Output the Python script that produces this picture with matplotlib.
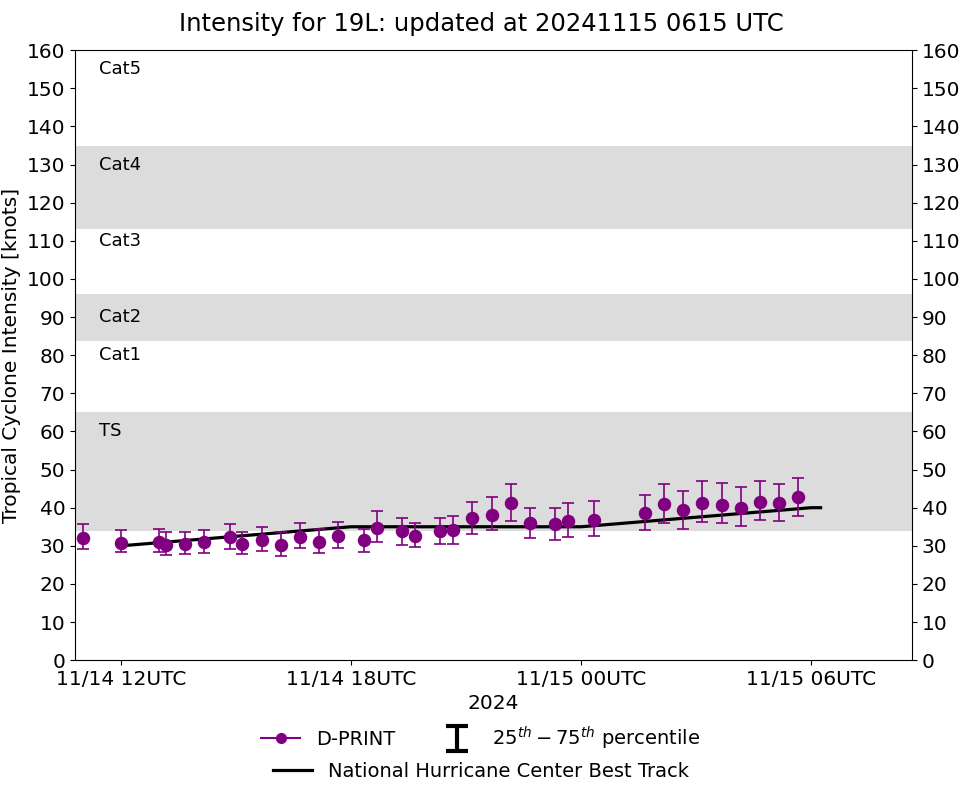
import matplotlib
matplotlib.use('Agg')
import matplotlib.pyplot as plt
import matplotlib.dates as mdates
import matplotlib.transforms as mtransforms
from matplotlib.lines import Line2D
from matplotlib.legend_handler import HandlerErrorbar
from datetime import datetime

# D-PRINT estimates (time, median, 25th, 75th percentile) in knots
dprint_times = ['2024-11-14 11:00', '2024-11-14 12:00', '2024-11-14 13:00', '2024-11-14 13:10',
                '2024-11-14 13:40', '2024-11-14 14:10', '2024-11-14 14:50', '2024-11-14 15:10',
                '2024-11-14 15:40', '2024-11-14 16:10', '2024-11-14 16:40', '2024-11-14 17:10',
                '2024-11-14 17:40', '2024-11-14 18:20', '2024-11-14 18:40', '2024-11-14 19:20',
                '2024-11-14 19:40', '2024-11-14 20:20', '2024-11-14 20:40', '2024-11-14 21:10',
                '2024-11-14 21:40', '2024-11-14 22:10', '2024-11-14 22:40', '2024-11-14 23:20',
                '2024-11-14 23:40', '2024-11-15 00:20', '2024-11-15 01:40', '2024-11-15 02:10',
                '2024-11-15 02:40', '2024-11-15 03:10', '2024-11-15 03:40', '2024-11-15 04:10',
                '2024-11-15 04:40', '2024-11-15 05:10', '2024-11-15 05:40']
dprint_vals = [32.0, 30.7, 31.0, 30.3, 30.4, 30.9, 32.2, 30.6, 31.6, 30.1, 32.3, 31.1,
               32.7, 31.4, 34.8, 33.8, 32.7, 33.8, 34.1, 37.2, 38.2, 41.2, 35.9, 35.6,
               36.5, 36.9, 38.5, 40.9, 39.3, 41.2, 40.8, 40.0, 41.6, 41.2, 42.7]
dprint_p25 = [29.2, 28.3, 28.4, 27.5, 27.9, 28.2, 29.1, 27.9, 28.6, 27.2, 29.3, 28.1,
              29.4, 28.3, 31.0, 30.3, 29.8, 30.6, 30.6, 33.2, 34.1, 36.5, 32.0, 31.5,
              32.4, 32.7, 34.1, 36.1, 34.5, 36.2, 35.9, 35.2, 36.9, 36.4, 37.7]
dprint_p75 = [35.7, 34.1, 34.3, 33.5, 33.7, 34.2, 35.6, 33.7, 35.0, 33.5, 36.0, 34.5,
              36.3, 34.5, 39.1, 37.4, 36.1, 37.4, 37.9, 41.6, 42.9, 46.2, 40.0, 40.0,
              41.2, 41.7, 43.3, 46.3, 44.5, 46.9, 46.6, 45.3, 47.1, 46.3, 47.9]

# NHC best track
bt_times = ['2024-11-14 12:00', '2024-11-14 18:00', '2024-11-15 00:00', '2024-11-15 06:00', '2024-11-15 06:15']
bt_vals = [30, 35, 35, 40, 40]

# category shading and labels
bands = [(34, 65), (83.7, 96), (113, 135)]
cat_labels = ['TS', 'Cat1', 'Cat2', 'Cat3', 'Cat4', 'Cat5']
cat_label_y = [60, 80, 90, 110, 130, 155]

fmt = '%Y-%m-%d %H:%M'
t = [datetime.strptime(s, fmt) for s in dprint_times]
tb = [datetime.strptime(s, fmt) for s in bt_times]
lo = [v - p for v, p in zip(dprint_vals, dprint_p25)]
hi = [p - v for v, p in zip(dprint_vals, dprint_p75)]

fig = plt.figure(figsize=(9.62, 7.85), dpi=100)
ax = fig.add_axes([0.078, 0.159, 0.870, 0.777])

for b0, b1 in bands:
    ax.axhspan(b0, b1, color='#dcdcdc', zorder=0, lw=0)
trans = mtransforms.blended_transform_factory(ax.transAxes, ax.transData)
for lab, yy in zip(cat_labels, cat_label_y):
    ax.text(0.0287, yy, lab, transform=trans, fontsize=13, va='center', ha='left')

bt_line, = ax.plot(tb, bt_vals, color='k', lw=2.3, zorder=2)
ax.errorbar(t, dprint_vals, yerr=[lo, hi], fmt='none', ecolor='purple', elinewidth=1.2,
            capsize=4.5, capthick=1.2, zorder=3)
ax.plot(t, dprint_vals, 'o', color='purple', markersize=8.7, zorder=4)

ax.set_ylim(0, 160)
ax.set_yticks(range(0, 161, 10))
ax.set_xlim(datetime(2024, 11, 14, 10, 48), datetime(2024, 11, 15, 8, 38))
ax.set_xticks([datetime(2024, 11, 14, 12), datetime(2024, 11, 14, 18),
               datetime(2024, 11, 15, 0), datetime(2024, 11, 15, 6)])
ax.xaxis.set_major_formatter(mdates.DateFormatter('%m/%d %HUTC'))
ax.tick_params(labelsize=14.5, right=True, labelright=True)
ax.set_xlabel('2024', fontsize=14.5)
ax.set_ylabel('Tropical Cyclone Intensity [knots]', fontsize=14.5)
fig.suptitle('Intensity for 19L: updated at 20241115 0615 UTC', fontsize=17.5, y=0.985)

# legend handles
h_dp = Line2D([], [], color='purple', marker='o', markersize=7, lw=1.5)
h_err = ax.errorbar([float('nan')], [float('nan')], yerr=[1.0], fmt='none', ecolor='k',
                    elinewidth=3, capsize=8, capthick=3)
fig.legend([h_dp, h_err], ['D-PRINT', r'$25^{th} - 75^{th}$ percentile'], ncol=2,
           loc='center', bbox_to_anchor=(0.5, 0.06), frameon=False, fontsize=14,
           columnspacing=2.2, handler_map={type(h_err): HandlerErrorbar(yerr_size=0.65)})
fig.legend([bt_line], ['National Hurricane Center Best Track'], loc='center',
           bbox_to_anchor=(0.5, 0.017), frameon=False, fontsize=14)

fig.savefig('out.png', dpi=100)
